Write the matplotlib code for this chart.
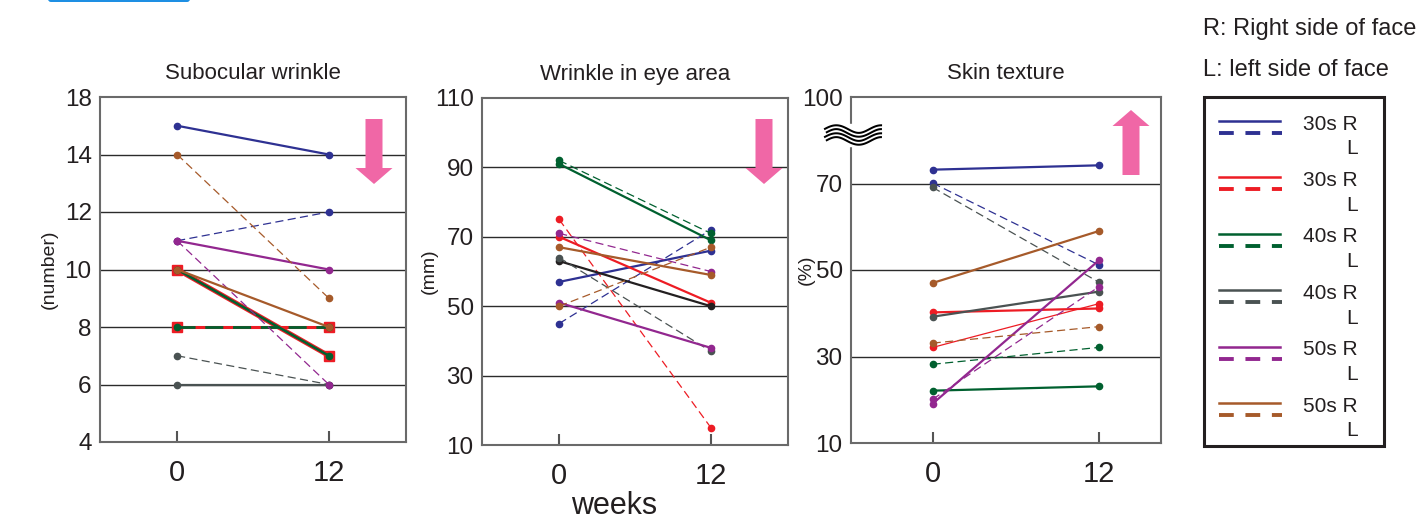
from __future__ import annotations

from dataclasses import dataclass, field

import matplotlib

matplotlib.use("Agg")
import matplotlib.pyplot as plt
import numpy as np
from matplotlib.patches import FancyArrow, FancyBboxPatch, Rectangle

plt.rcParams["font.family"] = ["Liberation Sans", "DejaVu Sans"]

FIG_W, FIG_H = 1423, 520
PINK = "#f067a6"

WEEKS = [0, 12]
GROUPS = ["30s", "30s", "40s", "40s", "50s", "50s"]
GROUP_COLORS = ["#2e3192", "#ed1c24", "#00602f", "#4a5252", "#92278f", "#a65a2a"]

# Subocular wrinkle (number), right / left side per group
SUB_R = [[15, 14], [10, 7], [10, 7], [6, 6], [11, 10], [10, 8]]
SUB_L = [[11, 12], [8, 8], [8, 8], [7, 6], [11, 6], [14, 9]]

# Wrinkle in eye area (mm)
EYE_R = [[57, 66], [70, 51], [91, 69], [63, 50], [51, 38], [67, 59]]
EYE_L = [[45, 72], [75, 15], [92, 71], [64, 37], [71, 60], [50, 67]]

# Skin texture (%)
TEX_R = [[73.2, 74.2], [40.2, 41.1], [22.1, 23.1], [39.2, 45.0], [19.1, 52.2], [47.0, 59.0]]
TEX_L = [[70.1, 51.2], [32.1, 42.2], [28.2, 32.1], [69.1, 47.2], [20.1, 46.1], [33.1, 36.9]]


@dataclass
class PanelSpec:
    title: str
    ylabel: str
    right: list
    left: list
    box: tuple  # left, top, right, bottom in pixels
    xlim: tuple
    ylim: tuple
    yticks: list
    yticklabels: list
    grid: list
    label_off: float
    tweaks: dict = field(default_factory=dict)


# the top tick of the first and third panel is a broken-axis label
PANELS = [
    PanelSpec(
        title="Subocular wrinkle",
        ylabel="(number)",
        right=SUB_R,
        left=SUB_L,
        box=(100, 97, 406, 442),
        xlim=(-6.1, 18.1),
        ylim=(4, 16),
        yticks=[4, 6, 8, 10, 12, 14, 16],
        yticklabels=["4", "6", "8", "10", "12", "14", "18"],
        grid=[6, 8, 10, 12, 14],
        label_off=42,
        tweaks={
            (1, "R"): dict(marker="s", ms=7.5, lw=3.4),
            (1, "L"): dict(marker="s", ms=7.5, ls="-", lw=2.2),
            (2, "R"): dict(lw=1.8),
            (2, "L"): dict(lw=2.0),
        },
    ),
    PanelSpec(
        title="Wrinkle in eye area",
        ylabel="(mm)",
        right=EYE_R,
        left=EYE_L,
        box=(482, 98, 788, 445),
        xlim=(-6.1, 18.1),
        ylim=(10, 110),
        yticks=[10, 30, 50, 70, 90, 110],
        yticklabels=["10", "30", "50", "70", "90", "110"],
        grid=[30, 50, 70, 90],
        label_off=44,
        tweaks={(3, "R"): dict(color="#231f20")},
    ),
    PanelSpec(
        title="Skin texture",
        ylabel="(%)",
        right=TEX_R,
        left=TEX_L,
        box=(851, 97, 1161, 443),
        xlim=(-5.9, 16.5),
        ylim=(10, 90),
        yticks=[10, 30, 50, 70, 90],
        yticklabels=["10", "30", "50", "70", "100"],
        grid=[30, 50, 70],
        label_off=36,
        tweaks={(1, "L"): dict(ls="-", lw=0.9)},
    ),
]


def px_rect(box):
    left, top, right, bottom = box
    return [left / FIG_W, 1 - bottom / FIG_H, (right - left) / FIG_W, (bottom - top) / FIG_H]


def draw_panel(fig, spec: PanelSpec):
    ax = fig.add_axes(px_rect(spec.box))
    for y in spec.grid:
        ax.axhline(y, color="#2b2b2b", lw=1.0, zorder=1)

    for i, color in enumerate(GROUP_COLORS):
        for side, values in (("R", spec.right), ("L", spec.left)):
            style = dict(color=color, marker="o", ms=4.5, zorder=3)
            if side == "R":
                style.update(lw=1.6, ls="-")
            else:
                style.update(lw=0.9, ls=(0, (6.5, 3.5)))
            style.update(spec.tweaks.get((i, side), {}))
            ax.plot(WEEKS, values[i], **style)

    ax.set_xlim(*spec.xlim)
    ax.set_ylim(*spec.ylim)
    ax.set_xticks(WEEKS)
    ax.set_xticklabels([str(w) for w in WEEKS])
    ax.set_yticks(spec.yticks)
    ax.set_yticklabels(spec.yticklabels)
    ax.tick_params(axis="x", direction="in", length=8, width=1.5, color="#555555",
                   labelsize=21, pad=12, labelcolor="#231f20")
    ax.tick_params(axis="y", length=0, labelsize=17.5, pad=6, labelcolor="#231f20")
    for spine in ax.spines.values():
        spine.set_color("#6a6a6a")
        spine.set_linewidth(1.5)
    ax.set_title(spec.title, fontsize=16, pad=13, color="#231f20")
    ax.set_ylabel(spec.ylabel, fontsize=14, color="#231f20")
    width = spec.box[2] - spec.box[0]
    ax.yaxis.set_label_coords(-spec.label_off / width, 0.5)
    return ax


def draw_overlay(fig):
    ov = fig.add_axes([0, 0, 1, 1], zorder=10)
    ov.set_xlim(0, FIG_W)
    ov.set_ylim(FIG_H, 0)
    ov.axis("off")
    ov.patch.set_alpha(0)

    # pink trend arrows
    for cx, y0, y1 in [(374, 119, 184), (764, 119, 184), (1131, 175, 110)]:
        ov.add_patch(FancyArrow(cx, y0, 0, y1 - y0, width=17, head_width=37, head_length=16,
                                length_includes_head=True, color=PINK, lw=0))

    # axis break on skin texture
    ov.add_patch(Rectangle((846, 124), 11, 22, color="white", zorder=1))
    xs = np.linspace(825, 882, 100)
    for yc in (131, 139):
        ys = yc - 3.8 * np.sin(2 * np.pi * (xs - 825) / 45)
        ov.plot(xs, ys, color="black", lw=4.2, solid_capstyle="butt", zorder=2)
        ov.plot(xs, ys, color="white", lw=1.3, zorder=3)

    # badge at top left
    ov.add_patch(FancyBboxPatch((48, -10), 142, 12, boxstyle="round,pad=0,rounding_size=3",
                                color="#1e8fe3", lw=0))

    ov.text(614, 506, "weeks", fontsize=22, ha="center", va="center", color="#231f20")

    # legend
    ov.text(1203, 29, "R: Right side of face", fontsize=17, va="center", color="#231f20")
    ov.text(1203, 70, "L: left side of face", fontsize=17, va="center", color="#231f20")
    ov.add_patch(Rectangle((1204, 97), 180, 349, fill=False, lw=2.2, ec="#231f20"))
    for k, (grp, color) in enumerate(zip(GROUPS, GROUP_COLORS)):
        yr = 124 + 56.4 * k
        ov.plot([1219, 1280], [yr - 3, yr - 3], color=color, lw=1.8)
        ov.plot([1219, 1282], [yr + 9, yr + 9], color=color, lw=2.8, dashes=(3.8, 3.0))
        ov.text(1358, yr, f"{grp} R", fontsize=15, ha="right", va="center", color="#231f20")
        ov.text(1358, yr + 25, "L", fontsize=15, ha="right", va="center", color="#231f20")


def main() -> None:
    fig = plt.figure(figsize=(FIG_W / 100, FIG_H / 100), dpi=100)
    for spec in PANELS:
        draw_panel(fig, spec)
    draw_overlay(fig)
    fig.savefig("out.png", dpi=100)
    plt.close(fig)


if __name__ == "__main__":
    main()
